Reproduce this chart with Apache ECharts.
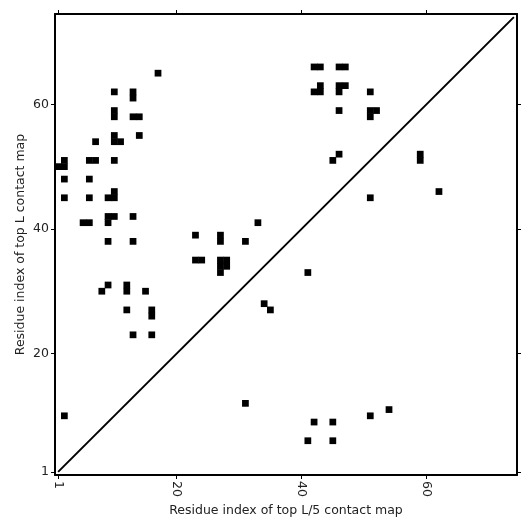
<!DOCTYPE html>
<html>
<head>
<meta charset="utf-8">
<script src="https://cdn.jsdelivr.net/npm/echarts@6/dist/echarts.min.js"></script>
<style>html,body{margin:0;padding:0;background:#fff;}#c{width:531px;height:531px;}</style>
</head>
<body>
<div id="c"></div>
<script>
// Sequence length (number of residues)
var seqLength = 74;
// Tick labels shown on both axes
var tickLabels = ['1', '20', '40', '60'];
// Contact residue pairs (1-based residue numbers)
var contactX = [17,10,13,13,10,10,13,14,7,10,10,11,14,2,2,1,6,7,10,2,6,2,6,9,10,10,5,6,9,10,9,13,9,13,9,8,12,12,15,12,16,16,13,16,2,
  33,23,27,27,31,23,24,27,28,27,28,27,34,35,31,
  42,43,46,47,43,42,43,46,47,46,51,46,51,52,51,46,45,59,59,51,62,41,
  42,45,41,45,51,54];
var contactY = [65,62,62,61,59,58,58,58,54,55,54,54,55,51,50,50,51,51,51,48,48,45,45,45,45,46,41,41,42,42,41,42,38,38,31,30,31,30,30,27,27,26,23,23,10,
  41,39,39,38,38,35,35,35,35,34,34,33,28,27,12,
  66,66,66,66,63,62,62,63,63,62,62,59,59,59,58,52,51,52,51,45,46,33,
  9,9,6,6,10,11];
// Diagonal reference line endpoints
var diagX = ['1', '74'];
var diagY = ['1', '74'];

var residues = [];
for (var r = 1; r <= seqLength; r++) residues.push(String(r));

var cells = [];
for (var k = 0; k < contactX.length; k++) cells.push([contactX[k] - 1, contactY[k] - 1, 1]);
var diag = [];
for (var d = 0; d < diagX.length; d++) diag.push([diagX[d], diagY[d]]);

function showTick(idx, val) { return tickLabels.indexOf(String(val)) >= 0; }

var font = 'DejaVu Sans';
var baseAxis = function (extra) {
  var o = {
    type: 'category',
    data: residues,
    boundaryGap: true,
    axisLine: { show: true, onZero: false, lineStyle: { color: '#000', width: 2 } },
    axisTick: { show: true, inside: false, length: 4, alignWithLabel: true, interval: showTick, lineStyle: { color: '#000', width: 1 } },
    axisLabel: { show: true, interval: showTick, color: '#222', fontFamily: font, fontSize: 12 },
    splitLine: { show: false }
  };
  for (var key in extra) o[key] = extra[key];
  return o;
};

var chart = echarts.init(document.getElementById('c'), null, { renderer: 'canvas' });
chart.setOption({
  animation: false,
  backgroundColor: '#fff',
  grid: { left: 55, top: 14, width: 462, height: 461, containLabel: false },
  visualMap: { show: false, min: 0, max: 1, dimension: 2, seriesIndex: 0, inRange: { color: ['#000', '#000'] } },
  xAxis: [
    baseAxis({
      position: 'bottom',
      name: 'Residue index of top L/5 contact map',
      nameLocation: 'middle', nameGap: 29, nameMoveOverlap: false,
      nameTextStyle: { color: '#222', fontFamily: font, fontSize: 12.5 },
      axisLabel: { show: true, interval: showTick, rotate: -90, margin: 6, color: '#222', fontFamily: font, fontSize: 12.5 }
    }),
    baseAxis({ position: 'top', axisLabel: { show: false } })
  ],
  yAxis: [
    baseAxis({
      position: 'left',
      name: 'Residue index of top L contact map',
      nameLocation: 'middle', nameGap: 28, nameMoveOverlap: false,
      nameTextStyle: { color: '#222', fontFamily: font, fontSize: 12.5 },
      axisLabel: { show: true, interval: showTick, margin: 6, color: '#222', fontFamily: font, fontSize: 12.5 }
    }),
    baseAxis({ position: 'right', axisLabel: { show: false } })
  ],
  series: [
    {
      type: 'heatmap',
      xAxisIndex: 0, yAxisIndex: 0,
      data: cells,
      itemStyle: { color: '#000', borderWidth: 0 },
      emphasis: { disabled: true }
    },
    {
      type: 'line',
      xAxisIndex: 0, yAxisIndex: 0,
      data: diag,
      symbol: 'none',
      lineStyle: { color: '#000', width: 2 },
      z: 3
    }
  ]
});
</script>
</body>
</html>
